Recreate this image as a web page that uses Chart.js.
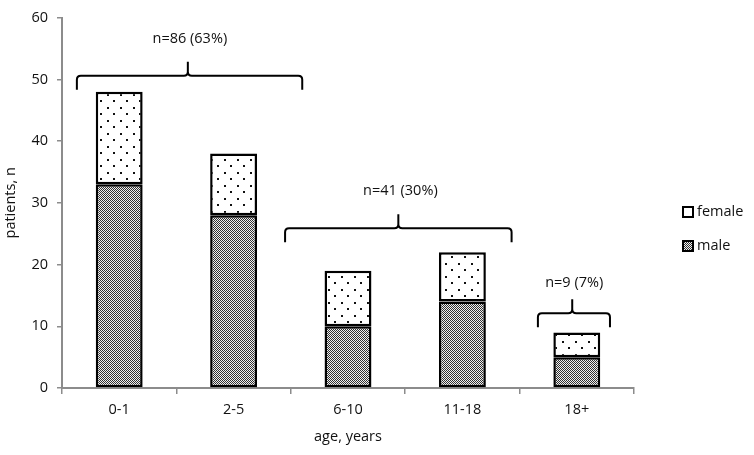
<!DOCTYPE html>
<html>
<head>
<meta charset="utf-8">
<script src="https://cdn.jsdelivr.net/npm/chart.js@4/dist/chart.umd.min.js"></script>
<style>
  html, body { margin: 0; padding: 0; background: #fff; }
  #wrap { width: 754px; height: 455px; }
</style>
</head>
<body>
<div id="wrap"><canvas id="ageChart" width="754" height="455"></canvas></div>
<script>
// data
const categories = ['0-1', '2-5', '6-10', '11-18', '18+'];
const maleCounts = [33, 28, 10, 14, 5];
const femaleCounts = [15, 10, 9, 8, 4];
const groupLabels = ['n=86 (63%)', 'n=41 (30%)', 'n=9 (7%)'];

// bracket layout (category index units / y value units)
const bracketFrom = [-0.37, 1.45, 3.66];
const bracketTo = [1.6, 3.43, 4.29];
const bracketTip = [0.6, 2.44, 3.96];
const bracketLevel = [50.6, 25.9, 12.1];
const labelLevel = [56.5, 32, 17];

const FONT = '"Open Sans", sans-serif';
const FSIZE = 14.5;
const AXIS = '#8c8c8c';

function makeCheck() {
  const c = document.createElement('canvas');
  c.width = 2; c.height = 2;
  const g = c.getContext('2d');
  g.fillStyle = '#f0f0f0';
  g.fillRect(0, 0, 2, 2);
  g.fillStyle = '#303030';
  g.fillRect(0, 0, 1, 1);
  g.fillRect(1, 1, 1, 1);
  return g.createPattern(c, 'repeat');
}

function makeDots() {
  const c = document.createElement('canvas');
  c.width = 13; c.height = 13;
  const g = c.getContext('2d');
  g.fillStyle = '#ffffff';
  g.fillRect(0, 0, 13, 13);
  g.fillStyle = '#111';
  g.fillRect(3, 3, 2, 2);
  g.fillRect(9, 9, 2, 2);
  return g.createPattern(c, 'repeat');
}

const malePattern = makeCheck();
const femalePattern = makeDots();

const bracketPlugin = {
  id: 'brackets',
  afterDatasetsDraw(chart) {
    const ctx = chart.ctx;
    const xs = chart.scales.x, ys = chart.scales.y;
    ctx.save();
    ctx.strokeStyle = '#000';
    ctx.lineWidth = 2;
    for (let i = 0; i < groupLabels.length; i++) {
      const x1 = xs.getPixelForValue(bracketFrom[i]);
      const x2 = xs.getPixelForValue(bracketTo[i]);
      const xt = xs.getPixelForValue(bracketTip[i]);
      const y = ys.getPixelForValue(bracketLevel[i]);
      const r = 4;
      ctx.beginPath();
      ctx.moveTo(x1, y + 14);
      ctx.lineTo(x1, y + r);
      ctx.quadraticCurveTo(x1, y, x1 + r, y);
      ctx.lineTo(xt - r, y);
      ctx.quadraticCurveTo(xt, y, xt, y - r);
      ctx.lineTo(xt, y - 14);
      ctx.moveTo(xt, y - r);
      ctx.quadraticCurveTo(xt, y, xt + r, y);
      ctx.lineTo(x2 - r, y);
      ctx.quadraticCurveTo(x2, y, x2, y + r);
      ctx.lineTo(x2, y + 14);
      ctx.stroke();

      ctx.fillStyle = '#111';
      ctx.font = FSIZE + 'px ' + FONT;
      ctx.textAlign = 'center';
      ctx.textBaseline = 'middle';
      ctx.fillText(groupLabels[i], xt + 2, ys.getPixelForValue(labelLevel[i]));
    }
    ctx.restore();
  },
  afterDraw(chart) {
    // legend on the right, female above male
    const ctx = chart.ctx;
    const x = chart.chartArea.right + 49;
    const items = [
      { label: 'female', fill: femalePattern, y: 212 },
      { label: 'male', fill: malePattern, y: 246 }
    ];
    ctx.save();
    items.forEach(it => {
      ctx.fillStyle = it.fill;
      ctx.fillRect(x, it.y - 5, 10, 10);
      ctx.strokeStyle = '#000';
      ctx.lineWidth = 2;
      ctx.strokeRect(x, it.y - 5, 10, 10);
      ctx.fillStyle = '#111';
      ctx.font = FSIZE + 'px ' + FONT;
      ctx.textAlign = 'left';
      ctx.textBaseline = 'middle';
      ctx.fillText(it.label, x + 14, it.y);
    });
    ctx.restore();
  }
};

new Chart(document.getElementById('ageChart').getContext('2d'), {
  type: 'bar',
  data: {
    labels: categories,
    datasets: [{
      label: 'male',
      data: maleCounts,
      backgroundColor: malePattern,
      borderColor: '#000',
      borderWidth: 2.5,
      borderSkipped: false
    }, {
      label: 'female',
      data: femaleCounts,
      backgroundColor: femalePattern,
      borderColor: '#000',
      borderWidth: 2.5,
      borderSkipped: false
    }]
  },
  options: {
    responsive: false,
    devicePixelRatio: 1,
    animation: false,
    layout: { padding: { left: 0, right: 120, top: 17, bottom: 5 } },
    datasets: { bar: { categoryPercentage: 1, barPercentage: 0.41 } },
    plugins: {
      legend: { display: false },
      tooltip: { enabled: false }
    },
    scales: {
      x: {
        stacked: true,
        afterFit: s => { s.height = 62; },
        border: { color: AXIS, width: 2 },
        grid: { drawOnChartArea: false, drawTicks: true, tickLength: 6, color: AXIS, lineWidth: 1.5 },
        ticks: { color: '#111', font: { family: FONT, size: FSIZE }, padding: 7 },
        title: { display: true, text: 'age, years', color: '#111', font: { family: FONT, size: FSIZE } }
      },
      y: {
        stacked: true,
        min: 0,
        max: 60,
        afterFit: s => { s.width = 62; },
        border: { color: AXIS, width: 2 },
        grid: { drawOnChartArea: false, drawTicks: true, tickLength: 5, color: AXIS, lineWidth: 1.5 },
        ticks: { stepSize: 10, color: '#111', font: { family: FONT, size: FSIZE }, padding: 9 },
        title: { display: true, text: 'patients, n', color: '#111', font: { family: FONT, size: FSIZE }, padding: { top: 2, bottom: 4 } }
      }
    }
  },
  plugins: [bracketPlugin]
});
</script>
</body>
</html>
